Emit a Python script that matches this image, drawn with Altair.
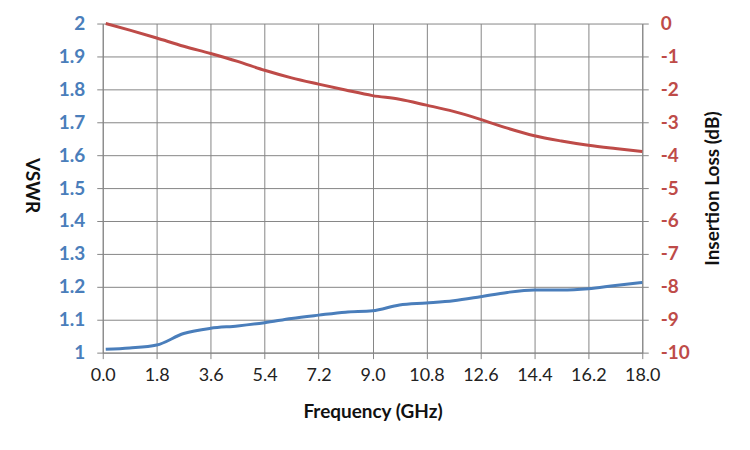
import altair as alt
import pandas as pd

freq = [0.1, 0.9, 1.8, 2.7, 3.6, 4.5, 5.4, 6.3, 7.2, 8.1, 9.0, 9.9, 10.8,
        11.7, 12.6, 13.5, 14.4, 15.3, 16.2, 17.1, 18.0]
vswr = [1.010, 1.014, 1.023, 1.058, 1.074, 1.081, 1.091, 1.104, 1.114, 1.123,
        1.127, 1.145, 1.151, 1.158, 1.170, 1.183, 1.190, 1.190, 1.194, 1.204, 1.213]
il = [0.0, -0.20, -0.44, -0.69, -0.91, -1.15, -1.42, -1.65, -1.84, -2.02,
      -2.19, -2.30, -2.48, -2.67, -2.91, -3.18, -3.41, -3.57, -3.70, -3.80, -3.89]

x_ticks = [round(i * 1.8, 1) for i in range(11)]
vswr_ticks = [round(1 + i * 0.1, 1) for i in range(11)]
il_ticks = list(range(-10, 1))

df = pd.DataFrame({"freq": freq, "vswr": vswr, "il": il})

BLUE = "#4A7EBB"
RED = "#BE4B48"
GRID = "#868686"
FONT = "Lato"
LSIZE = 19
TSIZE = 19

x_enc = alt.X(
    "freq:Q",
    scale=alt.Scale(domain=[0, 18], nice=False, zero=False),
    axis=alt.Axis(
        values=x_ticks, format=".1f", title="Frequency (GHz)",
        grid=True, gridColor=GRID, domainColor=GRID, tickColor=GRID,
        tickSize=6, labelPadding=8, labelFontSize=18, labelColor="#222222",
        labelOverlap=False, labelFlush=False,
        titleFontSize=TSIZE, titleFontWeight="bold", titlePadding=18,
        titleColor="#111111", labelFont=FONT, titleFont=FONT,
    ),
)

left = alt.Chart(df).mark_line(color=BLUE, strokeWidth=3, interpolate="monotone").encode(
    x=x_enc,
    y=alt.Y(
        "vswr:Q",
        scale=alt.Scale(domain=[1, 2], nice=False, zero=False),
        axis=alt.Axis(
            orient="left", values=vswr_ticks, format="~g", title="VSWR",
            grid=True, gridColor=GRID, domainColor=GRID, tickColor=GRID,
            tickSize=6, labelPadding=12, labelFontSize=LSIZE, labelFontWeight="bold",
            labelColor=BLUE, labelOverlap=False,
            titleFontSize=TSIZE, titleFontWeight="bold",
            titleAngle=90, titleX=-71, titleY=162, titleAlign="center",
            titleBaseline="middle", titleColor="#111111",
            labelFont=FONT, titleFont=FONT,
        ),
    ),
)

right = alt.Chart(df).mark_line(color=RED, strokeWidth=3, interpolate="monotone").encode(
    x=x_enc,
    y=alt.Y(
        "il:Q",
        scale=alt.Scale(domain=[-10, 0], nice=False, zero=False),
        axis=alt.Axis(
            orient="right", values=il_ticks, title="Insertion Loss (dB)",
            labelExpr="datum.value < 0 ? '-' + abs(datum.value) : '' + datum.value",
            grid=False, domainColor=GRID, tickColor=GRID,
            tickSize=6, labelPadding=12, labelFontSize=LSIZE, labelFontWeight="bold",
            labelColor=RED, labelOverlap=False,
            titleFontSize=TSIZE, titleFontWeight="bold",
            titleAngle=270, titleX=70, titleY=165, titleAlign="center",
            titleBaseline="middle", titleColor="#111111",
            labelFont=FONT, titleFont=FONT,
        ),
    ),
)

chart = alt.layer(left, right).resolve_scale(y="independent").properties(
    width=541, height=330,
    autosize=alt.AutoSizeParams(type="none"),
    padding={"left": 95, "top": 15, "right": 100, "bottom": 80},
    background="white",
).configure_view(stroke=None)

chart.save("out.html", embed_options={"renderer": "svg", "actions": False})
